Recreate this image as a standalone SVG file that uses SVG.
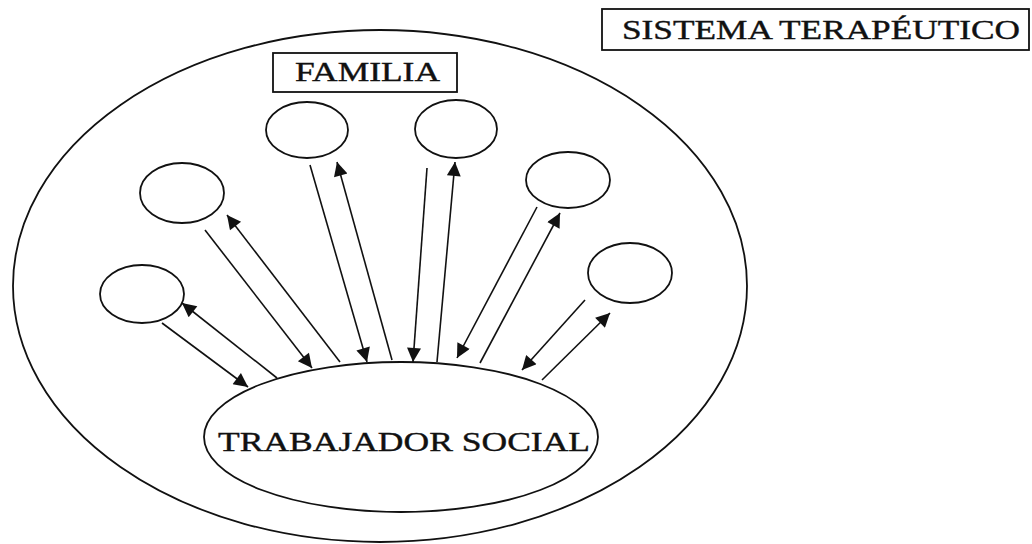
<svg xmlns="http://www.w3.org/2000/svg" width="1032" height="544" viewBox="0 0 1032 544">
<style>
.sh{fill:none;stroke:#111;stroke-width:1.8}
.box{fill:#fff;stroke:#111;stroke-width:1.8}
.lbl{font-family:"Liberation Serif","Times New Roman",serif;font-size:28px;fill:#111;stroke:#111;stroke-width:0.4}
.cn{fill:none;stroke:#111;stroke-width:1.6}
</style>
<defs>
<marker id="ah" viewBox="0 0 10 10" refX="10" refY="5" markerWidth="18" markerHeight="14" markerUnits="userSpaceOnUse" orient="auto">
<path d="M0,0 L10,5 L0,10 z" fill="#111"/>
</marker>
</defs>
<rect width="1032" height="544" fill="#fff"/>
<g id="sistema">
<ellipse class="sh" cx="380" cy="286" rx="367" ry="256"/>
</g>
<g id="sistema-label">
<rect class="box" x="602" y="9" width="427" height="41"/>
<text class="lbl" x="622" y="39" textLength="398" lengthAdjust="spacingAndGlyphs">SISTEMA TERAPÉUTICO</text>
</g>
<g id="familia-label">
<rect class="box" x="273" y="53" width="184" height="39"/>
<text class="lbl" x="295" y="81" textLength="145" lengthAdjust="spacingAndGlyphs">FAMILIA</text>
</g>
<g id="m1"><ellipse class="sh" cx="142" cy="294" rx="42" ry="29"/></g>
<g id="m2"><ellipse class="sh" cx="182" cy="193" rx="42" ry="30"/></g>
<g id="m3"><ellipse class="sh" cx="307" cy="130" rx="41" ry="28"/></g>
<g id="m4"><ellipse class="sh" cx="456" cy="129" rx="41" ry="29"/></g>
<g id="m5"><ellipse class="sh" cx="568" cy="180" rx="42" ry="28"/></g>
<g id="m6"><ellipse class="sh" cx="630" cy="273" rx="42" ry="30"/></g>
<g id="trabajador">
<ellipse class="sh" cx="401" cy="437" rx="197" ry="75"/>
<text class="lbl" x="218" y="451" textLength="372" lengthAdjust="spacingAndGlyphs">TRABAJADOR SOCIAL</text>
</g>
<g id="connectors">
<path class="cn" d="M162,323 L248,387" marker-end="url(#ah)"/>
<path class="cn" d="M277,378 L182,303" marker-end="url(#ah)"/>
<path class="cn" d="M205,230 L312,368" marker-end="url(#ah)"/>
<path class="cn" d="M340,362 L227,215" marker-end="url(#ah)"/>
<path class="cn" d="M310,165 L367,362" marker-end="url(#ah)"/>
<path class="cn" d="M392,360 L337,162" marker-end="url(#ah)"/>
<path class="cn" d="M427,168 L413,362" marker-end="url(#ah)"/>
<path class="cn" d="M437,362 L455,162" marker-end="url(#ah)"/>
<path class="cn" d="M537,207 L457,358" marker-end="url(#ah)"/>
<path class="cn" d="M480,363 L560,213" marker-end="url(#ah)"/>
<path class="cn" d="M585,300 L522,370" marker-end="url(#ah)"/>
<path class="cn" d="M542,380 L610,313" marker-end="url(#ah)"/>
</g>
</svg>
